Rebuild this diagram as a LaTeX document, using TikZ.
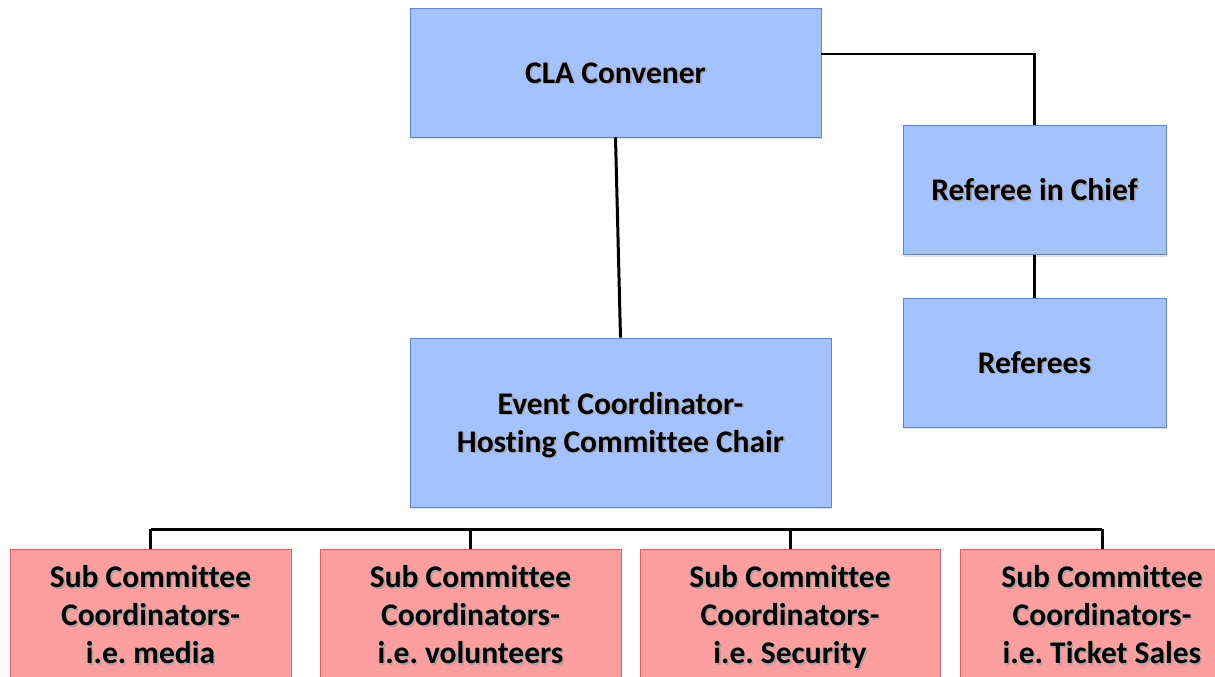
\documentclass[tikz,border=0pt]{standalone}
\usepackage{fontspec}
\setmainfont{Carlito}[Ligatures=NoCommon]
\usetikzlibrary{shadows}
\definecolor{boxblue}{HTML}{A4C2FF}
\definecolor{edgeblue}{HTML}{5B86D6}
\definecolor{boxred}{HTML}{FF9E9E}
\definecolor{edgered}{HTML}{D06464}
\newcommand\shtxt[1]{\rule[-8.4pt]{0pt}{38pt}\rlap{\hspace{1.6pt}\raisebox{-1.6pt}{\textcolor{black!35}{#1}}}#1}
\frenchspacing
\tikzset{
  orgbox/.style={draw, line width=0.8pt, align=center, inner sep=0pt,
    font=\fontsize{31.5}{38}\selectfont\bfseries,
    drop shadow={opacity=0.25, shadow xshift=1pt, shadow yshift=-2pt}},
  bluebox/.style={orgbox, fill=boxblue, draw=edgeblue},
  redbox/.style={orgbox, fill=boxred, draw=edgered, minimum height=132pt},
  link/.style={line width=3pt, black}
}
\begin{document}
\begin{tikzpicture}
  [x=1pt,y=-1pt]
  \useasboundingbox (0,0) rectangle (1215,677);
  % upper part
  \node[bluebox, minimum width=411pt, minimum height=129pt] (cla) at (615.5,72.5) {\shtxt{CLA Convener}};
  \node[bluebox, minimum width=263pt, minimum height=129pt] (ric) at (1034.5,190) {\shtxt{Referee in Chief}};
  \node[bluebox, minimum width=263pt, minimum height=129pt] (refs) at (1034.5,362.5) {\shtxt{Referees}};
  \node[bluebox, minimum width=421pt, minimum height=169pt] (evt) at (620.5,422.5)
    {\shtxt{Event Coordinator-}\\\shtxt{Hosting Committee Chair}};
  % sub committees
  \node[redbox, minimum width=281pt] (sub1) at (150.5,615)
    {\shtxt{Sub Committee}\\\shtxt{Coordinators-}\\\shtxt{i.e. media}};
  \node[redbox, minimum width=301pt] (sub2) at (470.5,615)
    {\shtxt{Sub Committee}\\\shtxt{Coordinators-}\\\shtxt{i.e. volunteers}};
  \node[redbox, minimum width=300pt] (sub3) at (790,615)
    {\shtxt{Sub Committee}\\\shtxt{Coordinators-}\\\shtxt{i.e. Security}};
  \node[redbox, minimum width=284pt] (sub4) at (1102,615)
    {\shtxt{Sub Committee}\\\shtxt{Coordinators-}\\\shtxt{i.e. Ticket Sales}};
  % connectors
  \draw[link] (cla.south) -- (evt.north);
  \draw[link, line width=2.4pt] (cla.east |- 0,54) -| (ric.north);
  \draw[link] (ric.south) -- (refs.north);
  \coordinate (busl) at (150.5,529);
  \draw[link] (busl) -- (sub4.north |- busl);
  \foreach \s in {sub1,sub2,sub3,sub4}
    \draw[link] (\s.north) -- (\s.north |- busl);
\end{tikzpicture}
\end{document}
